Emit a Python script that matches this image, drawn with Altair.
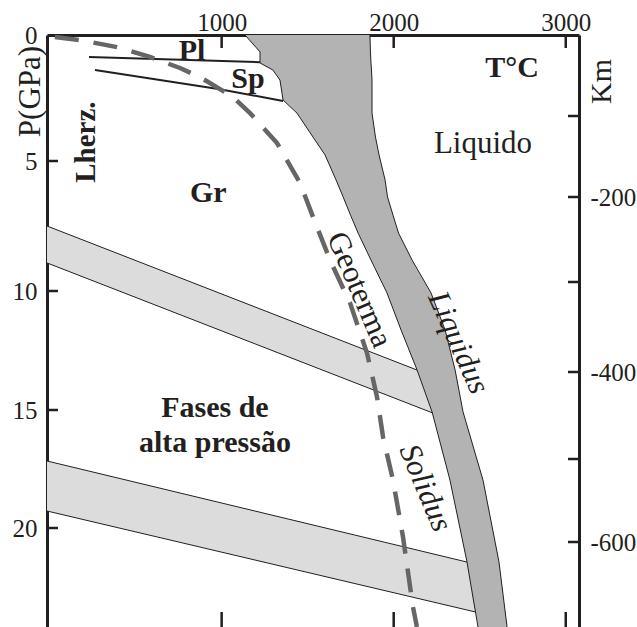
import altair as alt
import pandas as pd

FONT = "Liberation Serif"
INK = "#231f20"
DARK = "#b3b3b3"
LIGHT = "#dcdcdc"
GEO = "#666666"

W, H = 532, 592

# ---- melting interval: solidus and liquidus read at common pressure levels (GPa, degC)
P_levels = [0, 0.67, 1.11, 1.39, 1.79, 2.58, 3.10, 4.05, 4.76, 5.73, 6.38, 7.08,
            7.77, 8.81, 10.08, 11.64, 13.32, 15.08, 17.97, 21.44, 24.2]
solidus_T = [1136, 1223, 1223, 1298, 1339, 1357, 1438, 1531, 1601, 1665, 1706, 1749,
             1793, 1868, 1961, 2043, 2136, 2223, 2327, 2426, 2490]
liquidus_T = [1862, 1865, 1868, 1871, 1874, 1874, 1874, 1894, 1915, 1950, 1964, 1996,
              2028, 2107, 2217, 2299, 2357, 2403, 2519, 2612, 2659]

# ---- phase-transition bands (upper / lower boundary), running into the melting interval
band_ids = ["b1", "b2"]
band_T = [[-15, 2260], [-15, 2520]]
band_top = [[7.50, 13.67], [17.16, 21.61]]
band_bot = [[8.92, 15.22], [19.28, 23.64]]

# ---- plagioclase / spinel boundaries
Pl_T = [229, 1223]
Pl_P = [0.87, 1.08]
Sp_T = [264, 990, 1357]
Sp_P = [1.39, 2.15, 2.62]

# ---- geotherm
geo_T = [31, 176, 392, 583, 758, 874, 1066, 1165, 1322, 1456, 1531, 1630, 1746,
         1845, 1903, 1938, 1996, 2054, 2112, 2135]
geo_P = [0.08, 0.20, 0.48, 0.87, 1.31, 1.67, 2.46, 3.10, 4.29, 5.85, 7.15, 8.81, 10.50,
         12.61, 14.45, 16.14, 17.97, 20.38, 23.35, 24.2]

# ---- axes
P_labels = [0, 5, 10, 15, 20]
P_ticks = [5, 10, 15, 20]
T_ticks = [1000, 2000, 3000]
km_ticks = [-100, -200, -300, -400, -500, -600]
km_labels = [-200, -400, -600]

# ---- annotations
bold_text = ["Pl", "Sp", "Gr", "T°C", "Fases de", "alta pressão"]
bold_T = [828, 1153, 922, 2688, 961, 961]
bold_P = [0.99, 2.10, 6.58, 1.67, 15.30, 16.78]

lherz_text = ["Lherz."]
lherz_T = [264]
lherz_P = [4.25]

reg_text = ["Liquido"]
reg_T = [2519]
reg_P = [4.68]

rot_text = ["Geoterma", "Liquidus", "Solidus"]
rot_T = [1798, 2374, 2182]
rot_P = [9.96, 12.18, 18.31]
rot_angle = [67, 66, 67]
rot_style = ["normal", "italic", "italic"]

# the printed axes are slightly uneven; follow their tick positions
xs = alt.Scale(domain=[-15, 3077], nice=False, zero=False)
ys = alt.Scale(domain=[0, 5, 10, 15, 20, 24.2], range=[0, 126, 256, 375, 493, H],
               nice=False, zero=False)
ks = alt.Scale(domain=[0, -100, -200, -300, -400, -500, -600, -700],
               range=[0, 81, 162, 247, 337, 424, 507, H], nice=False, zero=False)

AX_Y = alt.Axis(
    orient="left", values=P_labels, ticks=False, tickSize=0, grid=False,
    domain=True, domainWidth=3, domainColor=INK,
    labelFont=FONT, labelFontSize=25, labelColor=INK, labelPadding=10,
    title="P(GPa)",
)
AX_X = alt.Axis(
    orient="top", values=T_ticks, format="d", ticks=False, tickSize=0, grid=False,
    domain=True, domainWidth=3, domainColor=INK, labelFlush=False,
    labelFont=FONT, labelFontSize=25, labelColor=INK, labelPadding=0, title=None,
)


def X(f):
    return alt.X(f, scale=xs, axis=AX_X)


def Y(f):
    return alt.Y(f, scale=ys, axis=AX_Y)


# data frames
melt_df = pd.DataFrame({"P": P_levels, "Ts": solidus_T, "Tl": liquidus_T})

band_rows = []
edge_rows = []
for b, ts, tops, bots in zip(band_ids, band_T, band_top, band_bot):
    for t, a, c in zip(ts, tops, bots):
        band_rows.append({"band": b, "T": t, "top": a, "bot": c})
        edge_rows.append({"key": b + "t", "T": t, "P": a})
        edge_rows.append({"key": b + "b", "T": t, "P": c})
band_df = pd.DataFrame(band_rows)
edge_df = pd.DataFrame(edge_rows)

bound_rows = [{"key": "Pl", "T": t, "P": p} for t, p in zip(Pl_T, Pl_P)]
bound_rows += [{"key": "Sp", "T": t, "P": p} for t, p in zip(Sp_T, Sp_P)]
bound_df = pd.DataFrame(bound_rows)

geo_df = pd.DataFrame({"T": geo_T, "P": geo_P})

bands = alt.Chart(band_df).mark_area(color=LIGHT, opacity=1).encode(
    x=X("T:Q"), y=Y("top:Q"), y2="bot:Q", detail="band:N"
)
band_lines = alt.Chart(edge_df).mark_line(color=INK, strokeWidth=1).encode(
    x=X("T:Q"), y=Y("P:Q"), detail="key:N"
)
melt_area = alt.Chart(melt_df).mark_area(orient="horizontal", color=DARK, opacity=1).encode(
    y=Y("P:Q"), x=X("Ts:Q"), x2="Tl:Q"
)
sol_line = alt.Chart(melt_df).mark_line(color=INK, strokeWidth=1).encode(
    x=X("Ts:Q"), y=Y("P:Q"), order="P:Q"
)
liq_line = alt.Chart(melt_df).mark_line(color=INK, strokeWidth=1).encode(
    x=X("Tl:Q"), y=Y("P:Q"), order="P:Q"
)
bounds = alt.Chart(bound_df).mark_line(color=INK, strokeWidth=2).encode(
    x=X("T:Q"), y=Y("P:Q"), detail="key:N", order="T:Q"
)
geo = alt.Chart(geo_df).mark_line(
    color=GEO, strokeWidth=4.5, strokeDash=[24, 15], strokeCap="butt"
).encode(x=X("T:Q"), y=Y("P:Q"), order="P:Q")

bold_layer = alt.Chart(pd.DataFrame({"label": bold_text, "T": bold_T, "P": bold_P})).mark_text(
    font=FONT, fontSize=30, fontWeight="bold", color=INK, align="center", baseline="alphabetic"
).encode(x=X("T:Q"), y=Y("P:Q"), text="label:N")

lherz_layer = alt.Chart(pd.DataFrame({"label": lherz_text, "T": lherz_T, "P": lherz_P})).mark_text(
    font=FONT, fontSize=29, fontWeight="bold", color=INK, align="center",
    baseline="alphabetic", angle=270
).encode(x=X("T:Q"), y=Y("P:Q"), text="label:N")

reg_layer = alt.Chart(pd.DataFrame({"label": reg_text, "T": reg_T, "P": reg_P})).mark_text(
    font=FONT, fontSize=31, color=INK, align="center", baseline="alphabetic"
).encode(x=X("T:Q"), y=Y("P:Q"), text="label:N")

rot_df = pd.DataFrame({"label": rot_text, "T": rot_T, "P": rot_P,
                       "angle": rot_angle, "style": rot_style})
rot_layers = []
for st in ["normal", "italic"]:
    rot_layers.append(
        alt.Chart(rot_df[rot_df["style"] == st]).mark_text(
            font=FONT, fontSize=31, fontStyle=st, color=INK, align="center", baseline="middle"
        ).encode(x=X("T:Q"), y=Y("P:Q"), text="label:N",
                 angle=alt.Angle("angle:Q", scale=None))
    )

# inward tick marks
left_ticks = alt.Chart(pd.DataFrame({"P": P_ticks})).mark_rule(color=INK, strokeWidth=2.5).encode(
    y=Y("P:Q"), x=alt.value(0), x2=alt.value(11),
)
top_ticks = alt.Chart(pd.DataFrame({"T": T_ticks})).mark_rule(color=INK, strokeWidth=2.5).encode(
    x=X("T:Q"), y=alt.value(0), y2=alt.value(13),
)
bottom_ticks = alt.Chart(pd.DataFrame({"T": T_ticks})).mark_rule(color=INK, strokeWidth=2.5).encode(
    x=X("T:Q"), y=alt.value(H - 15), y2=alt.value(H),
)

p_chart = alt.layer(
    bands, band_lines, melt_area, sol_line, liq_line, bounds, geo,
    bold_layer, lherz_layer, reg_layer, *rot_layers,
    left_ticks, top_ticks, bottom_ticks,
)

km_layer = alt.Chart(pd.DataFrame({"km": km_ticks})).mark_rule(color=INK, strokeWidth=2.5).encode(
    y=alt.Y("km:Q", scale=ks, axis=alt.Axis(
        orient="right", values=km_labels, ticks=False, tickSize=0, grid=False,
        domain=True, domainWidth=3, domainColor=INK,
        labelFont=FONT, labelFontSize=25, labelColor=INK, labelPadding=11,
        labelExpr="'-' + abs(datum.value)",
        title="Km", titleFont=FONT, titleFontSize=30, titleFontWeight="normal",
        titleColor=INK, titleAngle=270, titleX=22, titleY=46,
        titleAlign="center", titleBaseline="middle")),
    x=alt.value(W - 11), x2=alt.value(W),
)

chart = alt.layer(p_chart, km_layer).resolve_scale(y="independent").properties(
    width=W, height=H,
    padding={"left": 47, "top": 35, "right": 58, "bottom": 0},
    autosize="none",
    background="white",
).configure_view(stroke=None).configure_axisLeft(
    titleFont=FONT, titleFontSize=31, titleFontWeight="normal", titleColor=INK,
    titleAngle=270, titleX=-17, titleY=56, titleAlign="center", titleBaseline="middle",
)

chart.save("out.html", embed_options={"renderer": "svg", "actions": False})
